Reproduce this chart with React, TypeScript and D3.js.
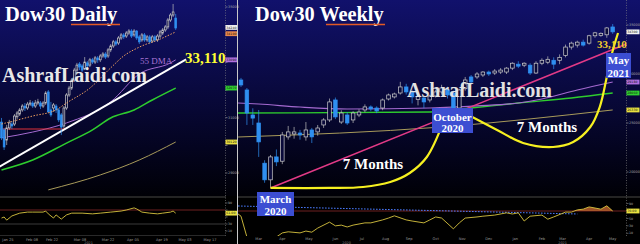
import React from 'react';
import * as d3 from 'd3';

// ---------------- Daily Dow30 (Jan - May 2021) ----------------
const dailyOpen = [30840, 30560, 30190, 30630, 30770, 30770, 31030, 31130, 31280, 31420, 31350, 31490, 31530, 31420, 31530, 31530, 31420, 31530, 31930, 31280, 31350, 31420, 31280, 31100, 30700, 31350, 31820, 32070, 32360, 32720, 32940, 32870, 32760, 32980, 32900, 33090, 33010, 33160, 33090, 33230, 33300, 33230, 33450, 33590, 33740, 33700, 33880, 33990, 33950, 34060, 34130, 33990, 34130, 33920, 33810, 33990, 33810, 33920, 33770, 33920, 33810, 33950, 34060, 34170, 34280, 34530, 34710, 34600];
const dailyHigh = [30990, 30630, 30740, 30920, 30880, 31130, 31240, 31350, 31490, 31530, 31570, 31640, 31600, 31640, 31680, 31600, 31600, 31960, 32000, 31570, 31530, 31490, 31350, 31170, 31420, 31890, 32150, 32430, 32800, 32980, 33010, 32940, 33190, 33050, 33160, 33160, 33230, 33230, 33300, 33370, 33370, 33520, 33660, 33810, 33810, 33950, 34060, 34060, 34130, 34200, 34200, 34200, 34170, 33990, 34060, 34060, 33990, 33990, 33990, 33990, 34020, 34170, 34240, 34350, 34600, 34780, 35110, 34750];
const dailyLow = [30190, 29830, 30010, 30560, 30590, 30700, 30950, 31060, 31210, 31240, 31280, 31420, 31350, 31350, 31460, 31310, 31350, 31460, 31170, 31030, 31210, 31170, 30840, 30370, 30630, 31280, 31750, 32000, 32290, 32650, 32720, 32650, 32720, 32800, 32830, 32940, 32940, 32980, 33010, 33160, 33120, 33160, 33370, 33520, 33590, 33630, 33810, 33840, 33880, 33990, 33880, 33920, 33810, 33660, 33740, 33740, 33740, 33660, 33700, 33740, 33740, 33880, 33990, 34100, 34200, 34460, 34640, 34170];
const dailyClose = [30270, 29940, 30630, 30810, 30700, 31060, 31170, 31280, 31420, 31350, 31490, 31530, 31420, 31530, 31570, 31420, 31530, 31890, 31210, 31100, 31460, 31280, 30920, 30660, 31350, 31820, 32070, 32360, 32720, 32900, 32830, 32720, 33010, 32870, 33090, 33010, 33160, 33090, 33230, 33300, 33190, 33450, 33590, 33740, 33660, 33880, 33990, 33920, 34060, 34130, 33950, 34130, 33880, 33740, 33990, 33810, 33920, 33740, 33920, 33810, 33950, 34100, 34170, 34280, 34530, 34710, 34820, 34240];

// moving averages as [day index, value]
const dailyMaFast: [number, number][] = [[0, 30770], [3, 30840], [12, 31060], [21, 31280], [25, 31530], [34, 32070], [42, 32800], [47, 33230], [53, 33550], [61, 33840], [67, 34100]];
const dailyMa55: [number, number][] = [[0, 30270], [12, 30480], [25, 30810], [42, 31570], [53, 32580], [65, 32980], [67, 33090]];
const dailyMa100: [number, number][] = [[0, 29110], [12, 29470], [25, 30080], [35, 30560], [42, 30990], [51, 31280], [58, 31640], [67, 32070]];
const dailyMa200: [number, number][] = [[18, 28390], [38, 28930], [53, 29470], [67, 30120]];
const dailyTrend: [number, number][] = [[-1, 29220], [71, 33110]];
const dailySupport = 30590;
const dailySupportSpan = [-0.6, 24.5];
const dailyRsi: [number, number][] = [[0, 47], [1, 50], [2, 41], [4, 53], [7, 61], [10, 64], [12, 64], [16, 64], [17, 67], [18, 59], [20, 47], [21, 56], [22, 50], [23, 44], [25, 56], [27, 61], [31, 61], [35, 59], [38, 61], [42, 64], [46, 67], [48, 70], [51, 76], [52, 73], [54, 64], [57, 61], [60, 59], [62, 61], [65, 64], [66, 67], [67, 61]];
const dailyTicks = [29000, 30000, 31000, 32000, 33000, 34000, 35000];
const dailyDateLabels = ['Jan 25', 'Feb 08', 'Feb 22', 'Mar 08', 'Mar 22', 'Apr 05', 'Apr 19', 'May 03', 'May 17'];
const dailyDateIdx = [2.5, 11.7, 19.4, 30.2, 41, 50.6, 61.7, 70.6, 80.2];

// ---------------- Weekly Dow30 (Feb 2020 - May 2021) ----------------
const weeklyOpen = [29390, 28370, 25820, 25000, 20900, 19200, 21540, 21100, 23580, 23880, 23980, 23580, 24290, 24090, 24800, 25310, 27350, 25100, 25820, 25310, 25820, 26330, 26640, 26530, 26530, 27450, 27660, 28060, 28680, 28100, 27400, 27550, 27350, 27760, 28170, 28400, 28060, 26530, 28500, 29700, 29700, 29900, 30200, 30100, 30200, 30200, 30600, 31000, 30900, 30900, 30100, 31100, 31200, 31400, 31400, 31900, 32750, 32950, 33250, 33150, 33900, 33950, 34000, 34800];
const weeklyHigh = [29600, 28570, 26500, 26330, 21200, 21740, 22300, 24090, 24700, 24600, 24300, 25100, 24500, 24800, 25500, 27500, 27600, 26300, 26100, 26200, 26400, 26900, 26800, 26700, 27500, 28000, 28100, 29200, 29000, 28400, 28000, 27700, 27900, 28400, 28900, 28700, 28300, 28500, 29700, 29900, 30200, 30300, 30350, 30500, 30600, 30700, 31200, 31300, 31200, 31100, 31300, 31600, 31800, 31700, 32000, 33000, 33300, 33400, 33500, 34000, 34300, 34250, 34800, 35100];
const weeklyLow = [28680, 24800, 24800, 21540, 18900, 18370, 20600, 20800, 23300, 23400, 23300, 23200, 22960, 23700, 24500, 25100, 25400, 24900, 24800, 25000, 25600, 26100, 26200, 26000, 26300, 27300, 27500, 27900, 27900, 27000, 26800, 26500, 27100, 27600, 27900, 27500, 26150, 26300, 28300, 28900, 29500, 29700, 29800, 29900, 30000, 30000, 30400, 30600, 30700, 29900, 30000, 30900, 31000, 30500, 31000, 31700, 32500, 32700, 32800, 33000, 33700, 33800, 33700, 34100];
const weeklyClose = [28880, 26020, 25500, 23070, 19200, 21540, 21030, 23780, 24090, 24090, 23780, 24290, 23580, 24490, 25310, 27150, 25620, 26020, 25000, 26020, 26120, 26640, 26430, 26230, 27350, 27860, 27960, 28680, 28170, 27660, 27700, 27150, 27760, 28170, 28570, 27860, 26530, 28370, 29390, 29190, 30000, 30200, 30000, 30300, 30400, 30600, 31100, 30800, 31100, 30100, 31100, 31400, 31500, 31000, 31700, 32750, 33150, 33250, 32950, 33900, 34200, 34150, 34700, 34300];

const weeklyMaA: [number, number][] = [[-0.5, 27040], [3, 26940], [10, 26630], [18, 26430], [32, 26530], [40, 26740], [47, 27040], [51, 27450], [57, 28370], [63, 29180]];
const weeklyMaB: [number, number][] = [[-0.5, 26020], [32, 26120], [39, 26530], [47, 27040], [56, 27550], [63, 28060]];
const weeklyMaC: [number, number][] = [[-0.5, 23570], [34, 24590], [63, 26330]];
const weeklyTrend: [number, number][] = [[5, 18370], [65.5, 33110]];
// "7 Months" arcs: March 2020 -> October 2020 -> May 2021
const arcMarchOct: [number, number][] = [[5, 18370], [15, 18370], [20.7, 18470], [25.3, 18980], [28.6, 19900], [31.5, 21530], [34.1, 24800]];
const arcOctMay: [number, number][] = [[39.2, 25610], [43.4, 24290], [47.8, 22960], [52.9, 22550], [56.3, 23060], [59.2, 24590], [60.8, 26630], [62, 29690], [62.9, 32140], [63.9, 34180]];
const weeklyRsi: [number, number][] = [[-0.5, 62], [0, 56], [1, 0], [6, 0], [7, 11], [8, 14], [10, 11], [11, 16], [12, 13], [13, 24], [15, 40], [16, 30], [17, 32], [18, 27], [19, 32], [21, 38], [22, 38], [24, 46], [25, 51], [26, 57], [28, 46], [29, 43], [31, 38], [32, 46], [33, 54], [34, 51], [36, 22], [37, 38], [38, 51], [40, 54], [41, 56], [43, 59], [45, 65], [46, 62], [47, 65], [48, 43], [49, 56], [51, 59], [52, 48], [53, 54], [55, 67], [56, 67], [57, 73], [58, 75], [59, 81], [60, 78], [61, 75], [62, 84], [63, 70]];
const weeklyRsiBand: [number, number][] = [[-0.5, 83.5], [57, 62]];
const weeklyTicks = [20000, 25000, 30000, 35000];
const weeklyMonthLabels = ['Mar', 'Apr', 'May', 'Jun', 'Jul', 'Aug', 'Sep', 'Oct', 'Nov', 'Dec', 'Jan', 'Feb', 'Mar', 'Apr', 'May'];
const weeklyMonthIdx = [3, 7, 11.5, 16, 20.5, 24.5, 28.5, 33, 37.5, 42, 46.5, 51, 54.5, 59, 63];
const rsiTicks = [10, 30, 50, 70, 90];

const SERIF = '"Liberation Serif", "Times New Roman", serif';
const SANS = '"DejaVu Sans", sans-serif';
const BLUE = '#2f8ff0';
const HOLLOW = '#cfcfcf';
const W = 640;
const H = 244;

type Sc = d3.ScaleLinear<number, number>;

function Candles(props: { o: number[]; h: number[]; l: number[]; c: number[]; x: Sc; y: Sc; w: number }) {
  const { o, h, l, c, x, y, w } = props;
  return (
    <g>
      {o.map((open, i) => {
        const close = c[i];
        const up = close >= open;
        const cx = x(i);
        const top = y(Math.max(open, close));
        const bot = y(Math.min(open, close));
        const col = up ? HOLLOW : BLUE;
        return (
          <g key={i}>
            <line x1={cx} x2={cx} y1={y(h[i])} y2={y(l[i])} stroke={up ? '#bdbdbd' : BLUE} strokeWidth={0.7} />
            <rect x={cx - w / 2} y={top} width={w} height={Math.max(bot - top, 0.8)}
              fill={up ? '#0a0a3a' : BLUE} stroke={col} strokeWidth={0.7} />
          </g>
        );
      })}
    </g>
  );
}

// price tag on an axis
function Tag(props: { x: number; y: number; color: string; text: string; w: number }) {
  return (
    <g>
      <rect x={props.x} y={props.y - 2.4} width={props.w} height={4.8} fill={props.color} />
      <text x={props.x + 0.8} y={props.y + 1.1} fontSize={3.2} fontFamily={SANS} fill="#111">{props.text}</text>
    </g>
  );
}

// tick labels that would sit under a tag are left out
const freeOf = (ys: number[]) => (y: number) => ys.every(t => Math.abs(t - y) > 4.6);

export default function App() {
  const dx = d3.scaleLinear().domain([0, 67]).range([1.5, 175.7]);
  const dy = d3.scaleLinear().domain([29000, 35000]).range([173, 7]);
  const wx = d3.scaleLinear().domain([0, 63]).range([241, 612.7]);
  const wy = d3.scaleLinear().domain([20000, 35000]).range([172, 25]);
  const rl = d3.scaleLinear().domain([0, 100]).range([234.5, 199.5]);
  const rr = d3.scaleLinear().domain([0, 100]).range([237, 199.86]);

  const lineOf = (x: Sc, y: Sc, curve: d3.CurveFactory = d3.curveMonotoneX) =>
    d3.line<[number, number]>().x(d => x(d[0])).y(d => y(d[1])).curve(curve);

  const dLine = lineOf(dx, dy);
  const wLine = lineOf(wx, wy);
  const arcLine = lineOf(wx, wy, d3.curveCatmullRom.alpha(0.5));
  const rlLine = lineOf(dx, rl, d3.curveLinear);
  const rrLine = lineOf(wx, rr, d3.curveLinear);
  const rrArea = d3.area<[number, number]>().x(d => wx(d[0])).y0(rr(70)).y1(d => rr(d[1]));

  const fmt = d3.format('.0f');
  const last = <T,>(a: T[]) => a[a.length - 1];

  const dTags = [
    { v: last(dailyClose), c: '#f2f2f2', off: -0.6 },
    { v: last(dailyMaFast)[1], c: '#e8884a', off: 1.8 },
    { v: last(dailyMa55)[1], c: '#b070e0', off: 0 },
    { v: last(dailyMa100)[1], c: '#30d030', off: 0 },
    { v: last(dailyMa200)[1], c: '#e8e040', off: 0 },
  ];
  const wTags = [
    { v: last(weeklyClose), c: '#f2f2f2' },
    { v: last(weeklyMaA)[1], c: '#b070e0' },
    { v: last(weeklyMaB)[1], c: '#30d030' },
    { v: last(weeklyMaC)[1], c: '#e8e040' },
  ];
  const dFree = freeOf(dTags.map(t => dy(t.v) + t.off));
  const wFree = freeOf(wTags.map(t => wy(t.v)));
  const rlFree = freeOf([rl(last(dailyRsi)[1])]);
  const rrFree = freeOf([rr(last(weeklyRsi)[1])]);

  return (
    <svg width={W} height={H} style={{ position: 'fixed', left: 0, top: 0, background: '#000' }}>
      <defs>
        <linearGradient id="sky" x1="0" y1="0" x2="0" y2="196" gradientUnits="userSpaceOnUse">
          <stop offset="0" stopColor="#11116c" />
          <stop offset="0.45" stopColor="#09093f" />
          <stop offset="1" stopColor="#000006" />
        </linearGradient>
        <clipPath id="clipDM"><rect x={0} y={0} width={225} height={196} /></clipPath>
        <clipPath id="clipWM"><rect x={238} y={0} width={388} height={196} /></clipPath>
        <clipPath id="clipDR"><rect x={0} y={198} width={225} height={37} /></clipPath>
        <clipPath id="clipWR"><rect x={238} y={198} width={388} height={38} /></clipPath>
        <clipPath id="clipOver"><rect x={238} y={198} width={388} height={rr(70) - 198} /></clipPath>
      </defs>

      {/* backgrounds */}
      <rect x={0} y={0} width={W} height={196} fill="url(#sky)" />
      <rect x={0} y={196} width={W} height={48} fill="#000" />

      {/* ---------- daily panel ---------- */}
      <g clipPath="url(#clipDM)">
        <path d={dLine(dailyMa200) ?? ''} fill="none" stroke="#a89a5a" strokeWidth={1} />
        <path d={dLine(dailyMa100) ?? ''} fill="none" stroke="#2ecc2e" strokeWidth={1.6} />
        <path d={dLine(dailyMa55) ?? ''} fill="none" stroke="#a46ad0" strokeWidth={1} />
        <line x1={dx(dailySupportSpan[0])} x2={dx(dailySupportSpan[1])} y1={dy(dailySupport)} y2={dy(dailySupport)} stroke="#e0303a" strokeWidth={1.2} />
        <path d={dLine(dailyTrend) ?? ''} fill="none" stroke="#ffffff" strokeWidth={2} />
        <Candles o={dailyOpen} h={dailyHigh} l={dailyLow} c={dailyClose} x={dx} y={dy} w={1.8} />
        <path d={dLine(dailyMaFast) ?? ''} fill="none" stroke="#f0a060" strokeWidth={1} strokeDasharray="1.5 1.5" />
      </g>

      {/* daily axis */}
      <line x1={225.5} x2={225.5} y1={0} y2={236} stroke="#8a8a8a" strokeWidth={0.6} strokeDasharray="1 1.5" />
      {dailyTicks.map(t => (
        <g key={t}>
          <line x1={225.5} x2={227.5} y1={dy(t)} y2={dy(t)} stroke="#aaa" strokeWidth={0.6} />
          {dFree(dy(t)) && <text x={228} y={dy(t) + 1.2} fontSize={3.4} fontFamily={SANS} fill="#aaa">{t}</text>}
        </g>
      ))}
      {dTags.map((t, i) => (
        <Tag key={i} x={225.5} y={dy(t.v) + t.off} color={t.c} text={fmt(t.v)} w={11.5} />
      ))}

      {/* daily RSI */}
      <line x1={0} x2={226} y1={197} y2={197} stroke="#5a5a5a" strokeWidth={0.8} />
      <line x1={0} x2={225} y1={rl(70)} y2={rl(70)} stroke="#8a2a2a" strokeWidth={0.8} />
      <line x1={0} x2={225} y1={rl(30)} y2={rl(30)} stroke="#4a4a4a" strokeWidth={0.8} />
      <g clipPath="url(#clipDR)">
        <path d={rlLine(dailyRsi) ?? ''} fill="none" stroke="#d8c440" strokeWidth={0.9} />
      </g>
      {rsiTicks.map(t => (
        <g key={t}>
          <line x1={225.5} x2={227.5} y1={rl(t)} y2={rl(t)} stroke="#aaa" strokeWidth={0.5} />
          {rlFree(rl(t)) && <text x={228} y={rl(t) + 1.1} fontSize={3.2} fontFamily={SANS} fill="#aaa">{t}</text>}
        </g>
      ))}
      <Tag x={225.5} y={rl(last(dailyRsi)[1])} color="#e8e040" text={d3.format('.2f')(last(dailyRsi)[1])} w={11.5} />
      <line x1={0} x2={226} y1={235.5} y2={235.5} stroke="#444" strokeWidth={0.6} />
      {dailyDateLabels.map((s, i) => (
        <text key={s} x={dx(dailyDateIdx[i])} y={240.5} fontSize={3.6} fontFamily={SANS} fill="#999" textAnchor="middle">{s}</text>
      ))}
      <text x={dx(33.5)} y={244} fontSize={3.4} fontFamily={SANS} fill="#888" textAnchor="middle">2021</text>

      {/* daily titles */}
      <text x={5} y={21} fontSize={20.5} fontWeight="bold" fontFamily={SERIF} fill="#ffffff">Dow30 Daily</text>
      <line x1={71} x2={120} y1={24.5} y2={24.5} stroke="#e25a24" strokeWidth={1.6} />
      <text x={2} y={82} fontSize={20} fontWeight="bold" fontFamily={SERIF} fill="#e8e8e8">AshrafLaidi.com</text>
      <text x={140} y={64} fontSize={9} fontFamily={SERIF} fill="#a874d4">55 DMA</text>
      <text x={185} y={63} fontSize={15} fontWeight="bold" fontFamily={SERIF} fill="#ffff33">33,110</text>

      {/* panel separator */}
      <line x1={237.5} x2={237.5} y1={0} y2={H} stroke="#c8c8c8" strokeWidth={1} />

      {/* ---------- weekly panel ---------- */}
      <g clipPath="url(#clipWM)">
        <path d={wLine(weeklyMaC) ?? ''} fill="none" stroke="#a89a5a" strokeWidth={1} />
        <path d={wLine(weeklyMaB) ?? ''} fill="none" stroke="#2ecc2e" strokeWidth={1.4} />
        <path d={wLine(weeklyMaA) ?? ''} fill="none" stroke="#a46ad0" strokeWidth={1.2} />
        <Candles o={weeklyOpen} h={weeklyHigh} l={weeklyLow} c={weeklyClose} x={wx} y={wy} w={3.6} />
        <path d={wLine(weeklyTrend) ?? ''} fill="none" stroke="#e23a86" strokeWidth={1.6} />
      </g>
      <path d={arcLine(arcMarchOct) ?? ''} fill="none" stroke="#f6f020" strokeWidth={2.2} />
      <path d={arcLine(arcOctMay) ?? ''} fill="none" stroke="#f6f020" strokeWidth={2.2} />

      {/* weekly axis */}
      <line x1={626.5} x2={626.5} y1={0} y2={237} stroke="#8a8a8a" strokeWidth={0.6} strokeDasharray="1 1.5" />
      {weeklyTicks.map(t => (
        <g key={t}>
          <line x1={626.5} x2={628.5} y1={wy(t)} y2={wy(t)} stroke="#aaa" strokeWidth={0.6} />
          {wFree(wy(t)) && <text x={629} y={wy(t) + 1.2} fontSize={3.4} fontFamily={SANS} fill="#aaa">{t}</text>}
        </g>
      ))}
      {wTags.map((t, i) => (
        <Tag key={i} x={626.5} y={wy(t.v)} color={t.c} text={fmt(t.v)} w={13} />
      ))}

      {/* weekly RSI */}
      <line x1={238} x2={640} y1={197} y2={197} stroke="#5a5a5a" strokeWidth={0.8} />
      <line x1={238} x2={626} y1={rr(70)} y2={rr(70)} stroke="#8a2a2a" strokeWidth={0.8} />
      <path d={rrLine(weeklyRsiBand) ?? ''} fill="none" stroke="#4a7cff" strokeWidth={1} strokeDasharray="1.6 1.4" />
      <g clipPath="url(#clipOver)">
        <path d={rrArea(weeklyRsi) ?? ''} fill="#b8602e" opacity={0.85} />
      </g>
      <g clipPath="url(#clipWR)">
        <path d={rrLine(weeklyRsi) ?? ''} fill="none" stroke="#d8c440" strokeWidth={0.9} />
      </g>
      {rsiTicks.map(t => (
        <g key={t}>
          <line x1={626.5} x2={628.5} y1={rr(t)} y2={rr(t)} stroke="#aaa" strokeWidth={0.5} />
          {rrFree(rr(t)) && <text x={629} y={rr(t) + 1.1} fontSize={3.2} fontFamily={SANS} fill="#aaa">{t}</text>}
        </g>
      ))}
      <Tag x={626.5} y={rr(last(weeklyRsi)[1])} color="#e8e040" text={d3.format('.2f')(last(weeklyRsi)[1])} w={13} />
      {weeklyMonthLabels.map((s, i) => (
        <text key={i} x={wx(weeklyMonthIdx[i])} y={240} fontSize={3.6} fontFamily={SANS} fill="#999" textAnchor="middle">{s}</text>
      ))}
      <text x={wx(17.9)} y={244} fontSize={3.4} fontFamily={SANS} fill="#888" textAnchor="middle">2020</text>
      <text x={wx(54.5)} y={244} fontSize={3.4} fontFamily={SANS} fill="#888" textAnchor="middle">2021</text>

      {/* weekly titles and notes */}
      <text x={255} y={21} fontSize={20.3} fontWeight="bold" fontFamily={SERIF} fill="#ffffff">Dow30 Weekly</text>
      <line x1={326} x2={385} y1={24.5} y2={24.5} stroke="#e25a24" strokeWidth={1.6} />
      <text x={407} y={97} fontSize={20} fontWeight="bold" fontFamily={SERIF} fill="#e2e2e2">AshrafLaidi.com</text>
      <text x={373} y={169} fontSize={15} fontWeight="bold" fontFamily={SERIF} fill="#ffffff" textAnchor="middle">7 Months</text>
      <text x={547} y={132} fontSize={15} fontWeight="bold" fontFamily={SERIF} fill="#ffffff" textAnchor="middle">7 Months</text>
      <text x={597} y={48} fontSize={11} fontWeight="bold" fontFamily={SERIF} fill="#f2cc2c">33,110</text>

      <g fontFamily={SERIF} fontWeight="bold" fontSize={11} fill="#ffffff" textAnchor="middle">
        <rect x={257} y={192} width={37} height={24} fill="#3c4ed2" />
        <text x={275.5} y={203}>March</text>
        <text x={275.5} y={215}>2020</text>
        <rect x={432} y={108} width={41} height={25} fill="#3c4ed2" />
        <text x={452.5} y={120.5}>October</text>
        <text x={452.5} y={131.5}>2020</text>
        <rect x={606} y={53} width={25} height={25} fill="#3c4ed2" />
        <text x={618.5} y={64}>May</text>
        <text x={618.5} y={76.5}>2021</text>
      </g>
    </svg>
  );
}
